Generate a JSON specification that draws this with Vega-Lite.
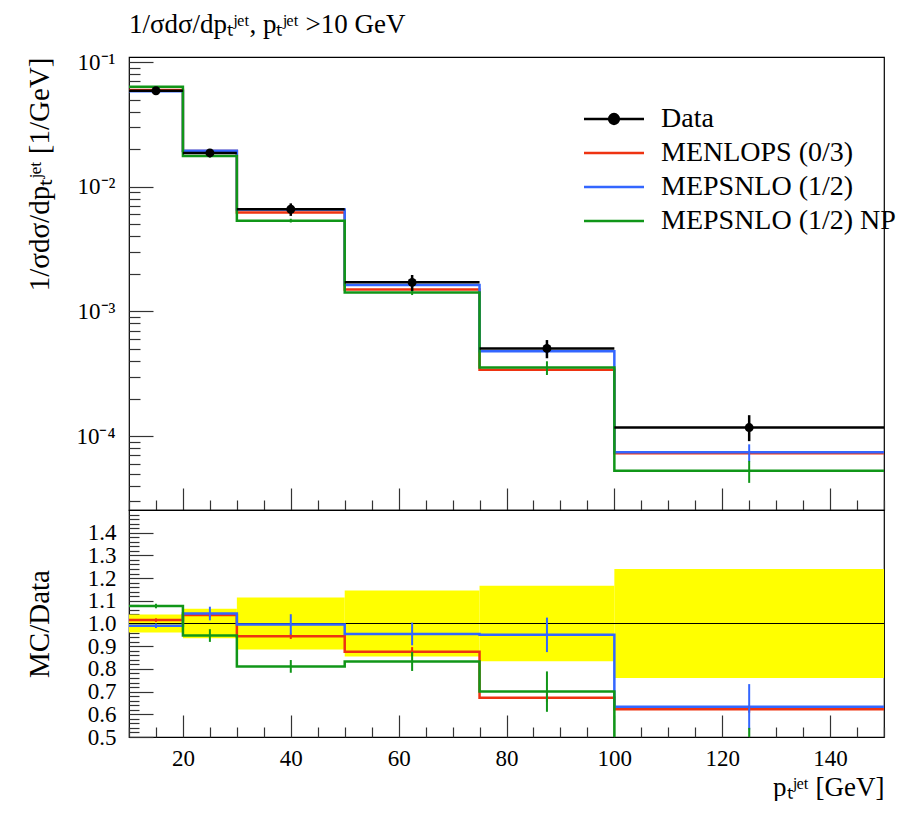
{
  "$schema": "https://vega.github.io/schema/vega-lite/v6.json",
  "padding": {"left": 24, "top": 10, "right": 0, "bottom": 0},
  "background": "white",
  "spacing": 0,
  "bounds": "flush",
  "config": {
    "font": "Liberation Serif",
    "view": {"stroke": "#000", "strokeWidth": 1.2},
    "axis": {"grid": false, "domain": false, "labelOverlap": false, "tickCount": 200, "labelFont": "Liberation Serif", "titleFont": "Liberation Serif", "labelColor": "#000", "titleColor": "#000", "tickColor": "#333", "labelFontSize": 23, "titleFontSize": 29, "titleFontWeight": "normal", "tickWidth": 1.2}
  },
  "datasets": {
    "mc": [
      {"series": "MENLOPS (0/3)", "x": 10, "top": 0.0599, "ratio": 1.015},
      {"series": "MENLOPS (0/3)", "x": 20, "top": 0.0194, "ratio": 1.037},
      {"series": "MENLOPS (0/3)", "x": 30, "top": 0.00623, "ratio": 0.944},
      {"series": "MENLOPS (0/3)", "x": 50, "top": 0.0015, "ratio": 0.876},
      {"series": "MENLOPS (0/3)", "x": 75, "top": 0.00034, "ratio": 0.673},
      {"series": "MENLOPS (0/3)", "x": 100, "top": 0.0000728, "ratio": 0.622},
      {"series": "MENLOPS (0/3)", "x": 150, "top": 0.0000728, "ratio": 0.622},
      {"series": "MEPSNLO (1/2)", "x": 10, "top": 0.0584, "ratio": 0.99},
      {"series": "MEPSNLO (1/2)", "x": 20, "top": 0.0195, "ratio": 1.044},
      {"series": "MEPSNLO (1/2)", "x": 30, "top": 0.00657, "ratio": 0.996},
      {"series": "MEPSNLO (1/2)", "x": 50, "top": 0.00163, "ratio": 0.954},
      {"series": "MEPSNLO (1/2)", "x": 75, "top": 0.00048, "ratio": 0.95},
      {"series": "MEPSNLO (1/2)", "x": 100, "top": 0.0000741, "ratio": 0.633},
      {"series": "MEPSNLO (1/2)", "x": 150, "top": 0.0000741, "ratio": 0.633},
      {"series": "MEPSNLO (1/2) NP", "x": 10, "top": 0.0635, "ratio": 1.077},
      {"series": "MEPSNLO (1/2) NP", "x": 20, "top": 0.0177, "ratio": 0.947},
      {"series": "MEPSNLO (1/2) NP", "x": 30, "top": 0.00535, "ratio": 0.811},
      {"series": "MEPSNLO (1/2) NP", "x": 50, "top": 0.00142, "ratio": 0.833},
      {"series": "MEPSNLO (1/2) NP", "x": 75, "top": 0.000354, "ratio": 0.70},
      {"series": "MEPSNLO (1/2) NP", "x": 100, "top": 0.0000527, "ratio": 0.45},
      {"series": "MEPSNLO (1/2) NP", "x": 150, "top": 0.0000527, "ratio": 0.45}
    ],
    "mcerr": [
      {"series": "MENLOPS (0/3)", "xc": 15, "tlo": 0.0594, "thi": 0.0604, "rlo": 1.007, "rhi": 1.023},
      {"series": "MENLOPS (0/3)", "xc": 25, "tlo": 0.0192, "thi": 0.0196, "rlo": 1.027, "rhi": 1.047},
      {"series": "MENLOPS (0/3)", "xc": 40, "tlo": 0.00615, "thi": 0.00631, "rlo": 0.932, "rhi": 0.956},
      {"series": "MENLOPS (0/3)", "xc": 62.5, "tlo": 0.001464, "thi": 0.001532, "rlo": 0.856, "rhi": 0.896},
      {"series": "MENLOPS (0/3)", "xc": 87.5, "tlo": 0.00033, "thi": 0.00035, "rlo": 0.653, "rhi": 0.693},
      {"series": "MENLOPS (0/3)", "xc": 125, "tlo": 0.000071, "thi": 0.0000745, "rlo": 0.607, "rhi": 0.637},
      {"series": "MEPSNLO (1/2)", "xc": 15, "tlo": 0.0578, "thi": 0.059, "rlo": 0.98, "rhi": 1.0},
      {"series": "MEPSNLO (1/2)", "xc": 25, "tlo": 0.01896, "thi": 0.02008, "rlo": 1.014, "rhi": 1.074},
      {"series": "MEPSNLO (1/2)", "xc": 40, "tlo": 0.00628, "thi": 0.00687, "rlo": 0.951, "rhi": 1.041},
      {"series": "MEPSNLO (1/2)", "xc": 62.5, "tlo": 0.001546, "thi": 0.001717, "rlo": 0.904, "rhi": 1.004},
      {"series": "MEPSNLO (1/2)", "xc": 87.5, "tlo": 0.000441, "thi": 0.000518, "rlo": 0.874, "rhi": 1.026},
      {"series": "MEPSNLO (1/2)", "xc": 125, "tlo": 0.0000624, "thi": 0.0000858, "rlo": 0.533, "rhi": 0.733},
      {"series": "MEPSNLO (1/2) NP", "xc": 15, "tlo": 0.063, "thi": 0.0641, "rlo": 1.067, "rhi": 1.087},
      {"series": "MEPSNLO (1/2) NP", "xc": 25, "tlo": 0.01719, "thi": 0.01823, "rlo": 0.919, "rhi": 0.975},
      {"series": "MEPSNLO (1/2) NP", "xc": 40, "tlo": 0.00517, "thi": 0.00554, "rlo": 0.783, "rhi": 0.839},
      {"series": "MEPSNLO (1/2) NP", "xc": 62.5, "tlo": 0.001353, "thi": 0.001496, "rlo": 0.791, "rhi": 0.875},
      {"series": "MEPSNLO (1/2) NP", "xc": 87.5, "tlo": 0.000309, "thi": 0.000398, "rlo": 0.611, "rhi": 0.789},
      {"series": "MEPSNLO (1/2) NP", "xc": 125, "tlo": 0.0000421, "thi": 0.0000632, "rlo": 0.36, "rhi": 0.54}
    ],
    "meas": [
      {"lo": 10, "hi": 20, "xc": 15, "y": 0.059, "ylo": 0.0566, "yhi": 0.0614, "blo": 0.96, "bhi": 1.04},
      {"lo": 20, "hi": 30, "xc": 25, "y": 0.0187, "ylo": 0.0175, "yhi": 0.0199, "blo": 0.935, "bhi": 1.065},
      {"lo": 30, "hi": 50, "xc": 40, "y": 0.0066, "ylo": 0.00584, "yhi": 0.00736, "blo": 0.885, "bhi": 1.115},
      {"lo": 50, "hi": 75, "xc": 62.5, "y": 0.00171, "ylo": 0.00146, "yhi": 0.00196, "blo": 0.855, "bhi": 1.145},
      {"lo": 75, "hi": 100, "xc": 87.5, "y": 0.000505, "ylo": 0.000421, "yhi": 0.000589, "blo": 0.834, "bhi": 1.166},
      {"lo": 100, "hi": 150, "xc": 125, "y": 0.000117, "ylo": 0.000091, "yhi": 0.000147, "blo": 0.76, "bhi": 1.24}
    ],
    "ref": [{"r": 1}]
  },
  "resolve": {"scale": {"color": "independent"}},
  "vconcat": [
    {
      "width": 755,
      "height": 453,
      "title": {"text": "1/σdσ/dpₜʲᵉᵗ, pₜʲᵉᵗ >10 GeV", "anchor": "start", "frame": "group", "fontSize": 27, "font": "Liberation Serif", "fontWeight": "normal", "offset": 12, "color": "#000"},
      "layer": [
        {
          "data": {"name": "mc"},
          "mark": {"type": "line", "interpolate": "step-after", "strokeWidth": 2.5, "clip": true},
          "encoding": {
            "x": {"field": "x", "type": "quantitative", "scale": {"domain": [10, 150], "nice": false},
              "axis": {"title": null, "labels": false, "tickCount": 200, "values": [10,15,20,25,30,35,40,45,50,55,60,65,70,75,80,85,90,95,100,105,110,115,120,125,130,135,140,145,150],
                "tickSize": {"condition": {"test": "indexof([20,40,60,80,100,120,140], datum.value) >= 0", "value": -22}, "value": -10}, "minExtent": 0, "maxExtent": 0}},
            "y": {"field": "top", "type": "quantitative", "scale": {"type": "log", "domain": [0.0000255, 0.11], "nice": false},
              "axis": {"title": "1/σdσ/dpₜʲᵉᵗ [1/GeV]", "titleAnchor": "end", "titlePadding": 15, "minExtent": 60, "maxExtent": 60, "tickCount": 200,
                "values": [0.00003,0.00004,0.00005,0.00006,0.00007,0.00008,0.00009,0.0001,0.0002,0.0003,0.0004,0.0005,0.0006,0.0007,0.0008,0.0009,0.001,0.002,0.003,0.004,0.005,0.006,0.007,0.008,0.009,0.01,0.02,0.03,0.04,0.05,0.06,0.07,0.08,0.09,0.1],
                "labelExpr": "datum.value == 0.1 ? '10⁻¹' : datum.value == 0.01 ? '10⁻²' : datum.value == 0.001 ? '10⁻³' : datum.value == 0.0001 ? '10⁻⁴' : ''",
                "tickSize": {"condition": {"test": "indexof([0.1,0.01,0.001,0.0001], datum.value) >= 0", "value": -24}, "value": -11},
                "labelPadding": 38}},
            "color": {"field": "series", "type": "nominal",
              "scale": {"domain": ["Data", "MENLOPS (0/3)", "MEPSNLO (1/2)", "MEPSNLO (1/2) NP"], "range": ["#000000", "#EE3311", "#3366FF", "#109618"]},
              "legend": {"orient": "none", "legendX": 471, "legendY": 48, "title": null, "labelFontSize": 28, "labelFont": "Liberation Serif", "labelColor": "#000", "labelOffset": 33, "symbolSize": 400, "symbolStrokeWidth": 2.3, "rowPadding": 6, "padding": 0, "labelLimit": 400, "symbolType": "M-3,0L3,0",
                "encode": {"symbols": {"update": {
                  "shape": {"signal": "datum.value === 'Data' ? 'M-3,0L3,0M0.5,0A0.5,0.5,0,1,1,-0.5,0A0.5,0.5,0,1,1,0.5,0Z' : 'M-3,0L3,0'"},
                  "fill": {"signal": "datum.value === 'Data' ? '#000' : 'transparent'"},
                  "opacity": {"value": 1}}}}}}
          }
        },
        {
          "data": {"name": "mcerr"},
          "mark": {"type": "rule", "strokeWidth": 2, "clip": true},
          "encoding": {
            "x": {"field": "xc", "type": "quantitative"},
            "y": {"field": "tlo", "type": "quantitative"},
            "y2": {"field": "thi"},
            "color": {"field": "series", "type": "nominal"}
          }
        },
        {
          "data": {"name": "meas"},
          "mark": {"type": "rule", "strokeWidth": 2.5, "color": "#000"},
          "encoding": {
            "x": {"field": "lo", "type": "quantitative"},
            "x2": {"field": "hi"},
            "y": {"field": "y", "type": "quantitative"}
          }
        },
        {
          "data": {"name": "meas"},
          "mark": {"type": "rule", "strokeWidth": 2.5, "color": "#000"},
          "encoding": {
            "x": {"field": "xc", "type": "quantitative"},
            "y": {"field": "ylo", "type": "quantitative"},
            "y2": {"field": "yhi"}
          }
        },
        {
          "data": {"name": "meas"},
          "mark": {"type": "point", "filled": true, "size": 80, "opacity": 1, "color": "#000"},
          "encoding": {
            "x": {"field": "xc", "type": "quantitative"},
            "y": {"field": "y", "type": "quantitative"}
          }
        }
      ]
    },
    {
      "width": 755,
      "height": 227,
      "layer": [
        {
          "data": {"name": "meas"},
          "mark": {"type": "rect", "color": "#ffff00", "opacity": 1},
          "encoding": {
            "x": {"field": "lo", "type": "quantitative", "scale": {"domain": [10, 150], "nice": false},
              "axis": {"title": "pₜʲᵉᵗ [GeV]", "titleAnchor": "end", "titleFontSize": 27, "titlePadding": 7, "minExtent": 30, "maxExtent": 30, "tickCount": 200,
                "values": [10,15,20,25,30,35,40,45,50,55,60,65,70,75,80,85,90,95,100,105,110,115,120,125,130,135,140,145,150],
                "labelExpr": "indexof([20,40,60,80,100,120,140], datum.value) >= 0 ? datum.value + '' : ''",
                "tickSize": {"condition": {"test": "indexof([20,40,60,80,100,120,140], datum.value) >= 0", "value": -22}, "value": -10},
                "labelPadding": 32}},
            "x2": {"field": "hi"},
            "y": {"field": "blo", "type": "quantitative", "scale": {"domain": [0.5, 1.5], "nice": false},
              "axis": {"title": "MC/Data", "titlePadding": 15, "minExtent": 60, "maxExtent": 60, "tickCount": 200,
                "values": [0.5,0.52,0.54,0.56,0.58,0.6,0.62,0.64,0.66,0.68,0.7,0.72,0.74,0.76,0.78,0.8,0.82,0.84,0.86,0.88,0.9,0.92,0.94,0.96,0.98,1.0,1.02,1.04,1.06,1.08,1.1,1.12,1.14,1.16,1.18,1.2,1.22,1.24,1.26,1.28,1.3,1.32,1.34,1.36,1.38,1.4,1.42,1.44,1.46,1.48],
                "labelExpr": "indexof([0.5,0.6,0.7,0.8,0.9,1.0,1.1,1.2,1.3,1.4], datum.value) >= 0 ? format(datum.value, '.1f') : ''",
                "tickSize": {"condition": {"test": "indexof([0.5,0.6,0.7,0.8,0.9,1.0,1.1,1.2,1.3,1.4], datum.value) >= 0", "value": -24}, "value": -10},
                "labelPadding": 37}},
            "y2": {"field": "bhi"}
          }
        },
        {
          "data": {"name": "ref"},
          "mark": {"type": "rule", "color": "#000", "strokeWidth": 1},
          "encoding": {"y": {"field": "r", "type": "quantitative"}}
        },
        {
          "data": {"name": "mc"},
          "mark": {"type": "line", "interpolate": "step-after", "strokeWidth": 2.5, "clip": true},
          "encoding": {
            "x": {"field": "x", "type": "quantitative"},
            "y": {"field": "ratio", "type": "quantitative"},
            "color": {"field": "series", "type": "nominal",
              "scale": {"domain": ["Data", "MENLOPS (0/3)", "MEPSNLO (1/2)", "MEPSNLO (1/2) NP"], "range": ["#000000", "#EE3311", "#3366FF", "#109618"]},
              "legend": null}
          }
        },
        {
          "data": {"name": "mcerr"},
          "mark": {"type": "rule", "strokeWidth": 2, "clip": true},
          "encoding": {
            "x": {"field": "xc", "type": "quantitative"},
            "y": {"field": "rlo", "type": "quantitative"},
            "y2": {"field": "rhi"},
            "color": {"field": "series", "type": "nominal", "legend": null}
          }
        }
      ]
    }
  ]
}
